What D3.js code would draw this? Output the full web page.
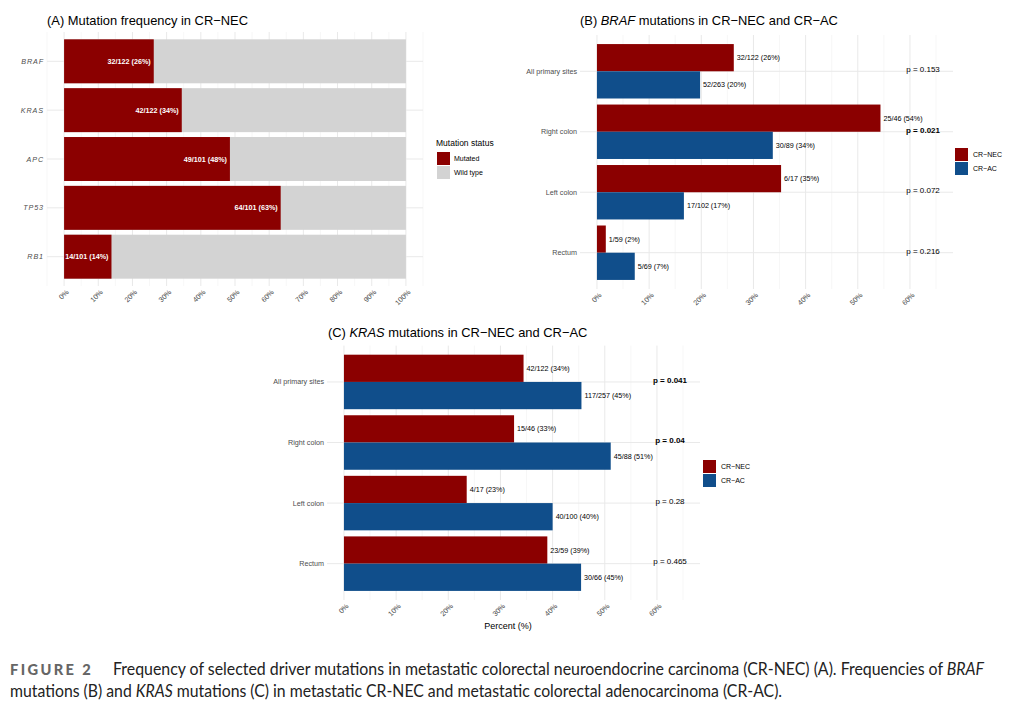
<!DOCTYPE html>
<html><head><meta charset="utf-8">
<script src="https://cdn.jsdelivr.net/npm/d3@7"></script>
<style>body{margin:0;background:#fff}svg{display:block}</style>
</head><body><svg id="c" width="1009" height="705"></svg>
<script>
// ---------- DATA ----------
const genes = ["BRAF","KRAS","APC","TP53","RB1"];
const geneMutated = [32,42,49,64,14];
const geneTotal = [122,122,101,101,101];
const genePctLabel = [26,34,48,63,14];
const statusLabels = ["Mutated","Wild type"];

const sites = ["All primary sites","Right colon","Left colon","Rectum"];
const groupLabels = ["CR\u2212NEC","CR\u2212AC"];

const brafNecMut = [32,25,6,1];
const brafNecTot = [122,46,17,59];
const brafNecPct = [26,54,35,2];
const brafAcMut = [52,30,17,5];
const brafAcTot = [263,89,102,69];
const brafAcPct = [20,34,17,7];
const brafP = ["0.153","0.021","0.072","0.216"];
const brafSig = [false,true,false,false];

const krasNecMut = [42,15,4,23];
const krasNecTot = [122,46,17,59];
const krasNecPct = [34,33,23,39];
const krasAcMut = [117,45,40,30];
const krasAcTot = [257,88,100,66];
const krasAcPct = [45,51,40,45];
const krasP = ["0.041","0.04","0.28","0.465"];
const krasSig = [true,true,false,false];

const ticksA = [0,10,20,30,40,50,60,70,80,90,100];
const ticksBC = [0,10,20,30,40,50,60];

// ---------- STYLE ----------
const RED = "#8B0000", BLUE = "#104E8B", GREY = "#D3D3D3";
const FONT = "'Liberation Sans', Arial, sans-serif";
const svg = d3.select("#c");
svg.append("rect").attr("width",1009).attr("height",705).attr("fill","#fff");

function grid(g, x, y, cats, L, R, T, B, majors, minors){
  g.selectAll(null).data(minors).join("line")
    .attr("x1",d=>x(d)).attr("x2",d=>x(d)).attr("y1",T).attr("y2",B)
    .attr("stroke","#f1f1f1").attr("stroke-width",0.6);
  g.selectAll(null).data(majors).join("line")
    .attr("x1",d=>x(d)).attr("x2",d=>x(d)).attr("y1",T).attr("y2",B)
    .attr("stroke","#e9e9e9").attr("stroke-width",1);
  g.selectAll(null).data(cats).join("line")
    .attr("x1",L).attr("x2",R).attr("y1",d=>y(d)).attr("y2",d=>y(d))
    .attr("stroke","#e9e9e9").attr("stroke-width",1);
}
function xAxis(g, x, B, ticks){
  const ax = g.append("g").attr("transform",`translate(0,${B})`)
    .call(d3.axisBottom(x).tickValues(ticks.map(t=>t/100)).tickFormat((d,i)=>ticks[i]+"%").tickSize(0));
  ax.select(".domain").remove();
  ax.selectAll("text").attr("y",0).attr("dy","0.71em")
    .attr("transform","translate(1,3) rotate(-45)")
    .attr("text-anchor","end").attr("fill","#4d4d4d")
    .style("font-family",FONT).style("font-size","7.2px");
}
function catLabels(g, y, cats, L, italic, spacing){
  g.selectAll(null).data(cats).join("text")
    .attr("x",L-3).attr("y",d=>y(d)).attr("dy","0.35em")
    .attr("text-anchor","end").attr("fill","#4d4d4d")
    .style("font-family",FONT).style("font-size","7.2px")
    .style("font-style",italic?"italic":"normal")
    .style("letter-spacing",spacing||"0px")
    .text(d=>d);
}

// ---------- PANEL A ----------
{
  const L=47,R=423,T=32,B=286;
  const g = svg.append("g");
  const x = d3.scaleLinear().domain([-0.05,1.05]).range([L,R]);
  const y = d3.scalePoint().domain(genes).range([T,B]).padding(0.6);
  const bh = y.step()*0.9;
  grid(g,x,y,genes,L,R,T,B,ticksA.map(t=>t/100),d3.range(-5,110,10).map(t=>t/100));
  const rows = genes.map((d,i)=>({gene:d,m:geneMutated[i],t:geneTotal[i],p:geneMutated[i]/geneTotal[i],lab:genePctLabel[i]}));
  g.selectAll(null).data(rows).join("rect")
    .attr("x",x(0)).attr("width",x(1)-x(0))
    .attr("y",d=>y(d.gene)-bh/2).attr("height",bh).attr("fill",GREY);
  g.selectAll(null).data(rows).join("rect")
    .attr("x",x(0)).attr("width",d=>x(d.p)-x(0))
    .attr("y",d=>y(d.gene)-bh/2).attr("height",bh).attr("fill",RED);
  g.selectAll(null).data(rows).join("text")
    .attr("x",d=>x(d.p)-3).attr("y",d=>y(d.gene)).attr("dy","0.35em")
    .attr("text-anchor","end").attr("fill","#fff")
    .style("font-family",FONT).style("font-size","7.2px").style("font-weight","bold")
    .text(d=>`${d.m}/${d.t} (${d.lab}%)`);
  catLabels(g,y,genes,L,true,"0.9px");
  xAxis(g,x,B,ticksA);
  svg.append("text").attr("x",47).attr("y",25).attr("fill","#000")
    .style("font-family",FONT).style("font-size","12.9px")
    .text("(A) Mutation frequency in CR\u2212NEC");
  // legend
  const lg = svg.append("g").attr("transform","translate(437,0)");
  lg.append("text").attr("x",-1).attr("y",146).attr("fill","#000")
    .style("font-family",FONT).style("font-size","8.5px").text("Mutation status");
  lg.selectAll(null).data(statusLabels).join("rect")
    .attr("x",0).attr("y",(d,i)=>152+i*14).attr("width",13).attr("height",13)
    .attr("fill",(d,i)=>i?GREY:RED);
  lg.selectAll(null).data(statusLabels).join("text")
    .attr("x",17).attr("y",(d,i)=>158.5+i*14).attr("dy","0.35em").attr("fill","#000")
    .style("font-family",FONT).style("font-size","7px").text(d=>d);
}

// ---------- PANELS B & C ----------
function groupPanel(opt){
  const {L,R,T,B,nec,necT,necP,ac,acT,acP,pv,sig,title,gene,tx,ty,legX,legY} = opt;
  const g = svg.append("g");
  const x = d3.scaleLinear().domain([-0.0325,0.6825]).range([L,R]);
  const y = d3.scalePoint().domain(sites).range([T,B]).padding(0.6);
  const bh = y.step()*0.45;
  grid(g,x,y,sites,L,R,T,B,ticksBC.map(t=>t/100),d3.range(5,70,10).map(t=>t/100));
  const rows = [];
  sites.forEach((s,i)=>{
    rows.push({s,grp:0,m:nec[i],t:necT[i],p:nec[i]/necT[i],lab:necP[i]});
    rows.push({s,grp:1,m:ac[i],t:acT[i],p:ac[i]/acT[i],lab:acP[i]});
  });
  g.selectAll(null).data(rows).join("rect")
    .attr("x",x(0)).attr("width",d=>x(d.p)-x(0))
    .attr("y",d=>y(d.s)-bh+d.grp*bh).attr("height",bh)
    .attr("fill",d=>d.grp?BLUE:RED);
  g.selectAll(null).data(rows).join("text")
    .attr("x",d=>x(d.p)+3).attr("y",d=>y(d.s)-bh/2+d.grp*bh).attr("dy","0.35em")
    .attr("fill","#000").style("font-family",FONT).style("font-size","7.2px")
    .text(d=>`${d.m}/${d.t} (${d.lab}%)`);
  g.selectAll(null).data(sites).join("text")
    .attr("x",x(0.625)).attr("y",d=>y(d)-2).attr("dy","0.35em")
    .attr("text-anchor","middle").attr("fill","#000")
    .style("font-family",FONT).style("font-size","8px")
    .style("font-weight",(d,i)=>sig[i]?"bold":"normal")
    .text((d,i)=>"p = "+pv[i]);
  catLabels(g,y,sites,L,false);
  xAxis(g,x,B,ticksBC);
  const t = svg.append("text").attr("x",tx).attr("y",ty).attr("fill","#000")
    .style("font-family",FONT).style("font-size","12.9px");
  t.append("tspan").text(title[0]);
  t.append("tspan").style("font-style","italic").text(gene);
  t.append("tspan").text(title[1]);
  const lg = svg.append("g").attr("transform",`translate(${legX},${legY})`);
  lg.selectAll(null).data(groupLabels).join("rect")
    .attr("x",0).attr("y",(d,i)=>i*14).attr("width",13).attr("height",13)
    .attr("fill",(d,i)=>i?BLUE:RED);
  lg.selectAll(null).data(groupLabels).join("text")
    .attr("x",18).attr("y",(d,i)=>6.5+i*14).attr("dy","0.35em").attr("fill","#000")
    .style("font-family",FONT).style("font-size","7px").text(d=>d);
  return {x,L,R,B};
}
groupPanel({L:580,R:953,T:35,B:289,nec:brafNecMut,necT:brafNecTot,necP:brafNecPct,
  ac:brafAcMut,acT:brafAcTot,acP:brafAcPct,pv:brafP,sig:brafSig,
  title:["(B) "," mutations in CR\u2212NEC and CR\u2212AC"],gene:"BRAF",tx:580,ty:25,legX:955,legY:148});
const pc = groupPanel({L:327,R:700,T:345.6,B:600,nec:krasNecMut,necT:krasNecTot,necP:krasNecPct,
  ac:krasAcMut,acT:krasAcTot,acP:krasAcPct,pv:krasP,sig:krasSig,
  title:["(C) "," mutations in CR\u2212NEC and CR\u2212AC"],gene:"KRAS",tx:328,ty:337,legX:703,legY:460});
svg.append("text").attr("x",508).attr("y",629).attr("text-anchor","middle").attr("fill","#000")
  .style("font-family",FONT).style("font-size","9px").text("Percent (%)");

// ---------- CAPTION ----------
const CF = "Lato, 'Open Sans', sans-serif";
{
  const f = svg.append("text").attr("x",0).attr("y",0).attr("fill","#666")
    .style("font-family",CF).style("font-size","15px").style("font-weight","900")
    .style("letter-spacing","2.4px").text("FIGURE 2");
  const w = f.node().getComputedTextLength();
  f.attr("transform",`translate(10,675) scale(${83/w},1)`);
}
function capLine(parts, xx, yy, target){
  const t = svg.append("text").attr("x",0).attr("y",0).attr("fill","#222")
    .style("font-family",CF).style("font-size","16.5px");
  parts.forEach(p=>t.append("tspan").style("font-style",p[1]?"italic":"normal").text(p[0]));
  const w = t.node().getComputedTextLength();
  t.attr("transform",`translate(${xx},${yy}) scale(${target/w},1)`);
}
capLine([["Frequency of selected driver mutations in metastatic colorectal neuroendocrine carcinoma (CR-NEC) (A). Frequencies of ",0],["BRAF",1]],113,675,872);
capLine([["mutations (B) and ",0],["KRAS",1],[" mutations (C) in metastatic CR-NEC and metastatic colorectal adenocarcinoma (CR-AC).",0]],10,697,773);
</script></body></html>
